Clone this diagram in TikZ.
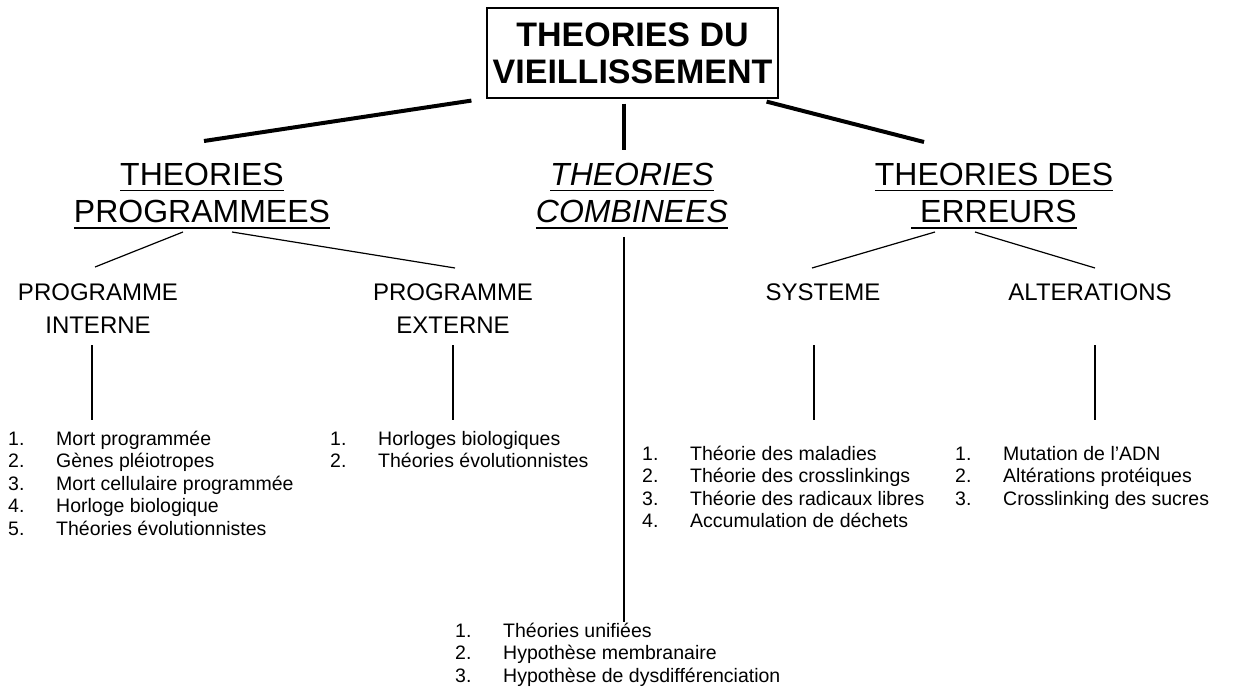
\documentclass[tikz,border=0pt]{standalone}
\usepackage{fontspec}
\setmainfont{Liberation Sans}
\newsavebox{\ulnbox}
\newcommand{\uln}[1]{\sbox{\ulnbox}{#1}\rlap{\rule[-5.5pt]{\wd\ulnbox}{1.8pt}}\usebox{\ulnbox}}
\tikzset{
  titlebox/.style={draw,line width=1.2pt,minimum width=291,minimum height=90,inner sep=0pt,align=center,font=\bfseries\fontsize{34}{37}\selectfont},
  theory/.style={align=center,inner sep=0pt,font=\fontsize{32}{37}\selectfont},
  branch/.style={align=center,inner sep=0pt,font=\fontsize{24}{33}\selectfont},
  liste/.style={align=left,inner sep=0pt,font=\fontsize{19.5}{22.5}\selectfont},
  thickline/.style={line width=4pt},
  thinline/.style={line width=1.2pt},
}
\newcommand{\itm}[2]{\makebox[48pt][l]{#1}#2}

\begin{document}
\begin{tikzpicture}[x=1pt,y=-1pt]
  \useasboundingbox (0,0) rectangle (1245,695);
  % heads
  \node[titlebox] (title) at (632.5,53) {THEORIES DU\\VIEILLISSEMENT};
  \node[theory,anchor=base] (progr) at (202,223) {\uln{THEORIES}\\\uln{PROGRAMMEES}};
  \node[theory,anchor=base,font=\itshape\fontsize{32}{37}\selectfont] (comb) at (632,223) {\uln{THEORIES}\\\uln{COMBINEES}};
  \node[theory,anchor=base] (err) at (994,223) {\uln{THEORIES DES}\\\uln{\ ERREURS}};
  \node[branch,anchor=base] (pint) at (98,333) {PROGRAMME\\INTERNE};
  \node[branch,anchor=base] (pext) at (453,333) {PROGRAMME\\EXTERNE};
  \node[branch,anchor=base] (sys) at (823,300) {SYSTEME};
  \node[branch,anchor=base] (alt) at (1090,300) {ALTERATIONS};
  % lists
  \node[liste,anchor=base west] (lint) at (8,535) {\itm{1.}{Mort programmée}\\\itm{2.}{Gènes pléiotropes}\\\itm{3.}{Mort cellulaire programmée}\\\itm{4.}{Horloge biologique}\\\itm{5.}{Théories évolutionnistes}};
  \node[liste,anchor=base west] (lext) at (330,467.5) {\itm{1.}{Horloges biologiques}\\\itm{2.}{Théories évolutionnistes}};
  \node[liste,anchor=base west] (lsys) at (642,527.5) {\itm{1.}{Théorie des maladies}\\\itm{2.}{Théorie des crosslinkings}\\\itm{3.}{Théorie des radicaux libres}\\\itm{4.}{Accumulation de déchets}};
  \node[liste,anchor=base west] (lalt) at (955,505) {\itm{1.}{Mutation de l’ADN}\\\itm{2.}{Altérations protéiques}\\\itm{3.}{Crosslinking des sucres}};
  \node[liste,anchor=base west] (lcomb) at (455,682) {\itm{1.}{Théories unifiées}\\\itm{2.}{Hypothèse membranaire}\\\itm{3.}{Hypothèse de dysdifférenciation}};
  % lines
  \draw[thickline] ([shift={(-15,2)}]title.south west) -- ([shift={(2,-82)}]progr.base);
  \draw[thickline] ([shift={(-8.5,5)}]title.south) -- ([shift={(-8,-73)}]comb.base);
  \draw[thickline] ([shift={(-12,3)}]title.south east) -- ([shift={(-70,-81)}]err.base);
  \draw[thinline] ([shift={(-19,9)}]progr.base) -- ([shift={(-3,-66)}]pint.base);
  \draw[thinline] ([shift={(30,9)}]progr.base) -- ([shift={(2,-65)}]pext.base);
  \draw[thinline] ([shift={(-59,9)}]err.base) -- ([shift={(-11,-32)}]sys.base);
  \draw[thinline] ([shift={(-19,9)}]err.base) -- ([shift={(5,-32)}]alt.base);
  \draw[thinline] ([shift={(-8,14)}]comb.base) -- ([shift={(169,-60)}]lcomb.base west);
  \draw[thinline] ([shift={(-6,12)}]pint.base) -- ([shift={(84,-115)}]lint.base west);
  \draw[thinline] ([shift={(0,12)}]pext.base) -- ([shift={(123,-47.5)}]lext.base west);
  \draw[thinline] ([shift={(-9,45)}]sys.base) -- ([shift={(172,-107.5)}]lsys.base west);
  \draw[thinline] ([shift={(5,45)}]alt.base) -- ([shift={(140,-85)}]lalt.base west);
\end{tikzpicture}
\end{document}
